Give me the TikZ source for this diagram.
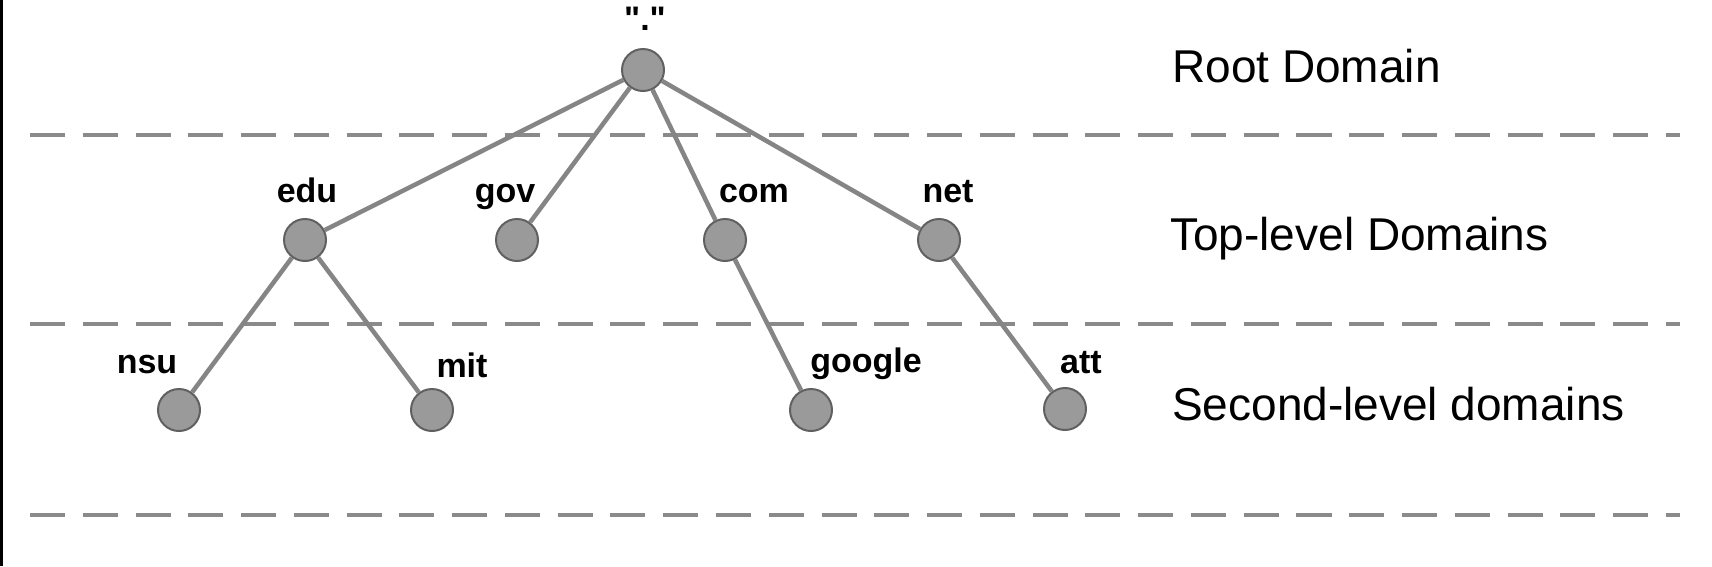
\documentclass[tikz,border=0pt]{standalone}
\usepackage{fontspec}
\setmainfont{Liberation Sans}
\newfontfamily\qfont{Liberation Sans}[Ligatures=TeXOff]
\definecolor{sepgray}{HTML}{8A8A8A}
\definecolor{edgegray}{HTML}{858585}
\definecolor{nodefill}{HTML}{9A9A9A}
\definecolor{nodeline}{HTML}{606060}
\begin{document}
\begin{tikzpicture}[x=1pt,y=-1pt,
  dom/.style={circle, minimum size=42pt, inner sep=0pt, fill=nodefill, draw=nodeline, line width=2pt},
  edge/.style={draw=edgegray, line width=4.5pt},
  sep/.style={draw=sepgray, line width=4pt, dash pattern=on 35pt off 17.77pt},
  lbl/.style={anchor=base, inner sep=0pt, font=\fontsize{34}{40}\selectfont\bfseries},
  lvl/.style={anchor=base west, inner sep=0pt, font=\fontsize{46}{54}\selectfont}]
\useasboundingbox (0,0) rectangle (1712,566);
\fill[white] (0,0) rectangle (1712,566);
\draw[black, line width=2.5pt] (1.25,0) -- (1.25,566);
% separators
\coordinate (s1a) at (30,135); \coordinate (s1b) at (1680,135);
\coordinate (s2a) at (30,324); \coordinate (s2b) at (1680,324);
\coordinate (s3a) at (30,515); \coordinate (s3b) at (1680,515);
\draw[sep] (s1a) -- (s1b);
\draw[sep] (s2a) -- (s2b);
\draw[sep] (s3a) -- (s3b);
% nodes
\node[dom] (root) at (643,70) {};
\node[dom] (edu) at (305,240) {};
\node[dom] (gov) at (517,240) {};
\node[dom] (com) at (725,240) {};
\node[dom] (net) at (939,240) {};
\node[dom] (nsu) at (179,410) {};
\node[dom] (mit) at (432,410) {};
\node[dom] (google) at (811,410) {};
\node[dom] (att) at (1065,409) {};
% edges
\draw[edge] (root) -- (edu);
\draw[edge] (root) -- (gov);
\draw[edge] (root) -- (com);
\draw[edge] (root) -- (net);
\draw[edge] (edu) -- (nsu);
\draw[edge] (edu) -- (mit);
\draw[edge] (com) -- (google);
\draw[edge] (net) -- (att);
% labels
\node[lbl] (lroot) at (645,30) {\qfont\bfseries "."};
\node[lbl] (ledu) at (307,202) {edu};
\node[lbl] (lgov) at (505,202) {gov};
\node[lbl] (lcom) at (754,202) {com};
\node[lbl] (lnet) at (948,202) {net};
\node[lbl] (lnsu) at (147,373) {nsu};
\node[lbl] (lmit) at (462,377) {mit};
\node[lbl] (lgoogle) at (866,372) {google};
\node[lbl] (latt) at (1081,373) {att};
% level labels
\node[lvl] (rootdom) at (1172,82) {Root Domain};
\node[lvl] (topdom) at (1170,250) {Top-level Domains};
\node[lvl] (secdom) at (1172,420) {Second-level domains};
\end{tikzpicture}
\end{document}
